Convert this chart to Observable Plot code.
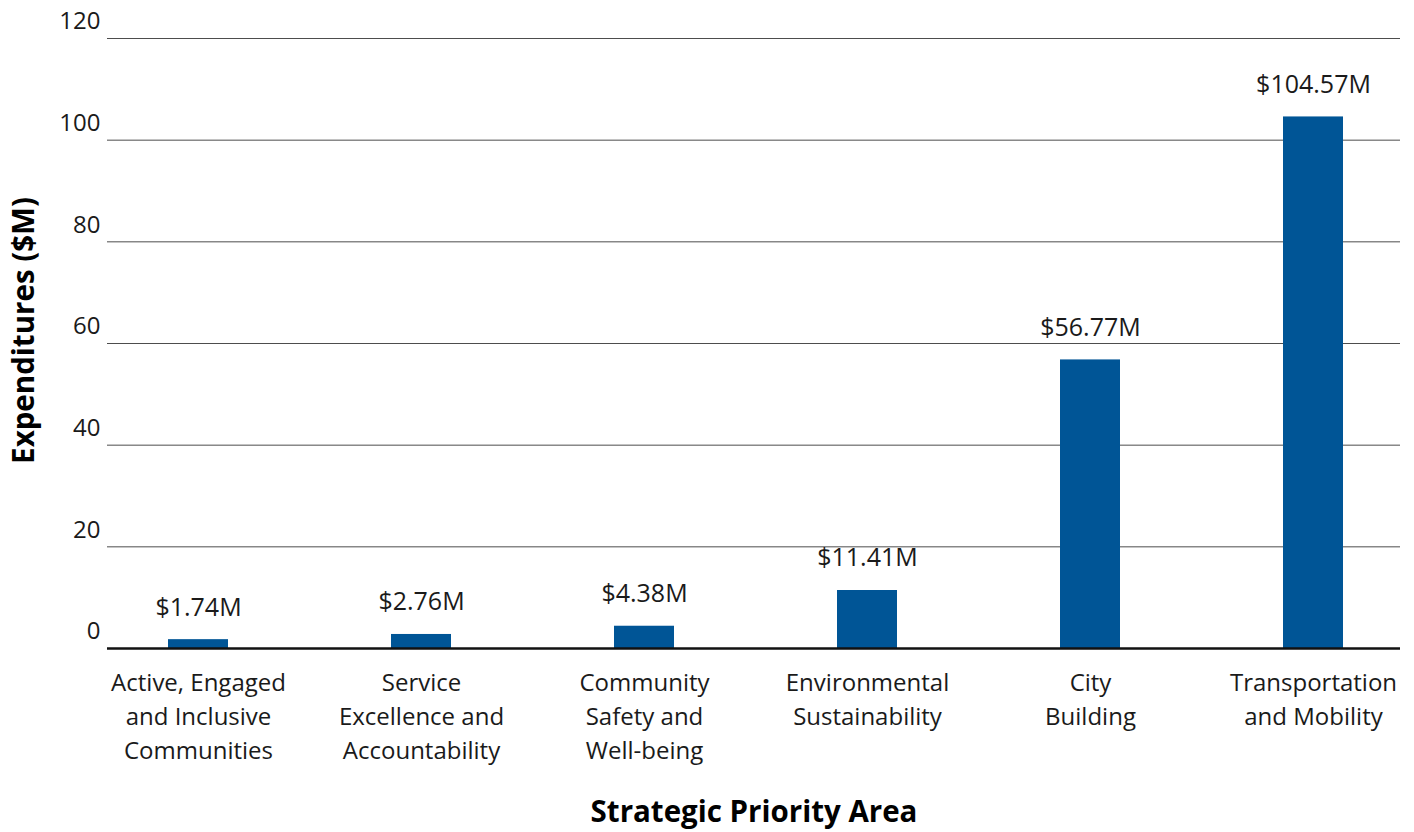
<!DOCTYPE html>
<html>
<head>
<meta charset="utf-8">
<script src="https://cdn.jsdelivr.net/npm/d3@7"></script>
<script src="https://cdn.jsdelivr.net/npm/@observablehq/plot@0.6"></script>
<style>
  html, body { margin: 0; padding: 0; background: #fff; }
</style>
</head>
<body>
<div id="chart"></div>
<script>
const categories = [
  "Active, Engaged and Inclusive Communities",
  "Service Excellence and Accountability",
  "Community Safety and Well-being",
  "Environmental Sustainability",
  "City Building",
  "Transportation and Mobility"
];
const tickLabels = [
  "Active, Engaged\nand Inclusive\nCommunities",
  "Service\nExcellence and\nAccountability",
  "Community\nSafety and\nWell-being",
  "Environmental\nSustainability",
  "City\nBuilding",
  "Transportation\nand Mobility"
];
const values = [1.74, 2.76, 4.38, 11.41, 56.77, 104.57];
const yTicks = [0, 20, 40, 60, 80, 100, 120];
const yLabel = "Expenditures ($M)";
const xLabel = "Strategic Priority Area";

const data = categories.map((c, i) => ({category: c, value: values[i]}));

const chart = Plot.plot({
  width: 1414,
  height: 832,
  marginTop: 38,
  marginBottom: 184,
  marginLeft: 107,
  marginRight: 14,
  style: {fontFamily: "'Open Sans', sans-serif", fontSize: "24px", color: "#1a1a1a", background: "#fff"},
  x: {domain: categories, range: [85.3, 1425.7], paddingInner: 0.731, paddingOuter: 0.366, label: null},
  y: {domain: [0, 120], label: null},
  marks: [
    Plot.ruleY(yTicks.filter(t => t > 0), {stroke: "#4d4d4d", strokeWidth: 1}),
    Plot.barY(data, {x: "category", y: "value", fill: "#005596"}),
    Plot.ruleY([0], {stroke: "#111", strokeWidth: 2.5}),
    Plot.axisY({ticks: yTicks, tickSize: 0, tickPadding: 7, dy: -17, fontSize: 24, label: null, fill: "#1a1a1a"}),
    Plot.axisX({tickSize: 0, tickPadding: 18, tickFormat: d => tickLabels[categories.indexOf(d)], lineHeight: 1.42, fontSize: 24, label: null, fill: "#1a1a1a"}),
    Plot.text(data, {x: "category", y: "value", text: d => "$" + d.value.toFixed(2) + "M", lineAnchor: "bottom", dy: -24, fontSize: 25, fill: "#1a1a1a"}),
    Plot.text([yLabel], {text: d => d, frameAnchor: "left", textAnchor: "middle", lineAnchor: "middle", rotate: -90, dx: -83, dy: -13, fontWeight: "bold", fontSize: 29.5, fill: "#000"}),
    Plot.text([xLabel], {text: d => d, frameAnchor: "bottom", textAnchor: "middle", lineAnchor: "middle", dy: 164, fontWeight: "bold", fontSize: 29.5, fill: "#000"})
  ]
});
document.getElementById("chart").appendChild(chart);
</script>
</body>
</html>
